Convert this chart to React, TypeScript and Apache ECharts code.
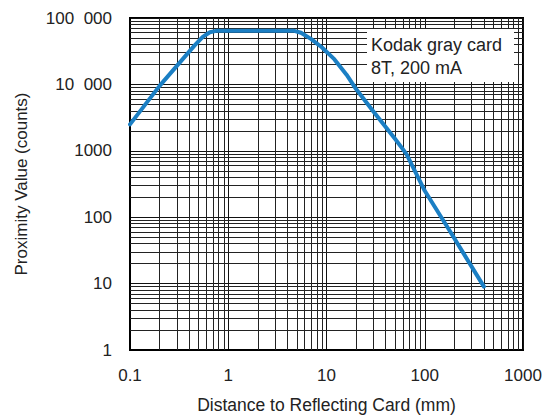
import React, { useEffect, useRef } from "react";
import * as echarts from "echarts";

// ---- data ----
const distances = [0.1, 0.2, 0.3, 0.45, 0.55, 0.65, 0.75, 4.7, 5.5, 7, 9, 12, 16, 20, 30, 50, 65, 100, 180, 250, 400];
const counts = [2500, 9500, 19000, 38000, 52000, 61000, 64000, 64000, 60000, 48000, 36000, 24000, 14000, 8500, 3900, 1500, 900, 250, 62, 28, 9];

const xTickLabels = ["0.1", "1", "10", "100", "1000"];
const yTickLabels = ["1", "10", "100", "1000", "10\u2007000", "100\u2007000"];
const xDecades = [0.1, 1, 10, 100];
const yDecades = [1, 10, 100, 1000, 10000];
const minorSteps = [2, 3, 4, 5, 6, 7, 8, 9];
const annotationLines = ["Kodak gray card", "8T, 200 mA"];

const FONT = "'Liberation Sans', Arial, Helvetica, sans-serif";

export default function App() {
  const ref = useRef<HTMLDivElement>(null);

  useEffect(() => {
    document.body.style.margin = "0";
    if (!ref.current) return;
    const chart = echarts.init(ref.current, null, { renderer: "svg" });

    const xMinor: any[] = [];
    xDecades.forEach((d) => minorSteps.forEach((m) => xMinor.push({ xAxis: +(d * m).toPrecision(6) })));
    const yMinor: any[] = [];
    yDecades.forEach((d) => minorSteps.forEach((m) => yMinor.push({ yAxis: d * m })));

    const option: any = {
      animation: false,
      backgroundColor: "#ffffff",
      textStyle: { fontFamily: FONT },
      grid: {
        left: 130,
        right: 26,
        top: 18,
        bottom: 65,
        containLabel: false,
        outerBoundsMode: "none",
        show: true,
        borderColor: "#000",
        borderWidth: 2,
        backgroundColor: "transparent",
      },
      xAxis: {
        type: "log",
        logBase: 10,
        min: 0.1,
        max: 1000,
        splitNumber: 4,
        name: "Distance to Reflecting Card (mm)",
        nameLocation: "middle",
        nameGap: 46,
        nameTextStyle: { fontSize: 17.5, color: "#222", fontFamily: FONT },
        axisLine: { show: true, lineStyle: { color: "#000", width: 2 } },
        axisTick: { show: false },
        axisLabel: {
          fontSize: 17,
          color: "#222",
          fontFamily: FONT,
          margin: 17,
          formatter: (v: number) => xTickLabels[Math.round(Math.log10(v)) + 1] ?? "",
        },
        splitLine: { show: true, lineStyle: { color: "#111", width: 1 } },
      },
      yAxis: {
        type: "log",
        logBase: 10,
        min: 1,
        max: 100000,
        splitNumber: 5,
        name: "Proximity Value (counts)",
        nameLocation: "middle",
        nameGap: 100,
        nameTextStyle: { fontSize: 17, color: "#222", fontFamily: FONT },
        axisLine: { show: true, lineStyle: { color: "#000", width: 2 } },
        axisTick: { show: false },
        axisLabel: {
          fontSize: 17,
          color: "#222",
          fontFamily: FONT,
          margin: 18,
          formatter: (v: number) => yTickLabels[Math.round(Math.log10(v))] ?? "",
        },
        splitLine: { show: true, lineStyle: { color: "#111", width: 1 } },
      },
      series: [
        {
          type: "line",
          data: [],
          z: 1,
          silent: true,
          markLine: {
            z: 1,
            silent: true,
            symbol: ["none", "none"],
            label: { show: false },
            lineStyle: { color: "#222", width: 1, type: "solid" },
            emphasis: { disabled: true },
            data: [...xMinor, ...yMinor],
          },
        },
        {
          type: "line",
          z: 5,
          data: distances.map((d, i) => [d, counts[i]]),
          showSymbol: false,
          symbol: "none",
          smooth: false,
          lineStyle: { color: "#1b7fc4", width: 4, cap: "round", join: "round" },
        },
      ],
      graphic: [
        {
          type: "rect",
          z: 100,
          zlevel: 0,
          shape: { x: 367, y: 29, width: 147, height: 53 },
          style: { fill: "#ffffff" },
        },
        ...annotationLines.map((t, i) => ({
          type: "text",
          z: 101,
          x: 371,
          y: 45 + i * 23,
          style: {
            text: t,
            fontSize: 18,
            fontFamily: FONT,
            fill: "#222",
            verticalAlign: "middle",
            align: "left",
          },
        })),
      ],
    };

    chart.setOption(option);
    return () => chart.dispose();
  }, []);

  return <div ref={ref} style={{ width: 549, height: 415 }} />;
}
